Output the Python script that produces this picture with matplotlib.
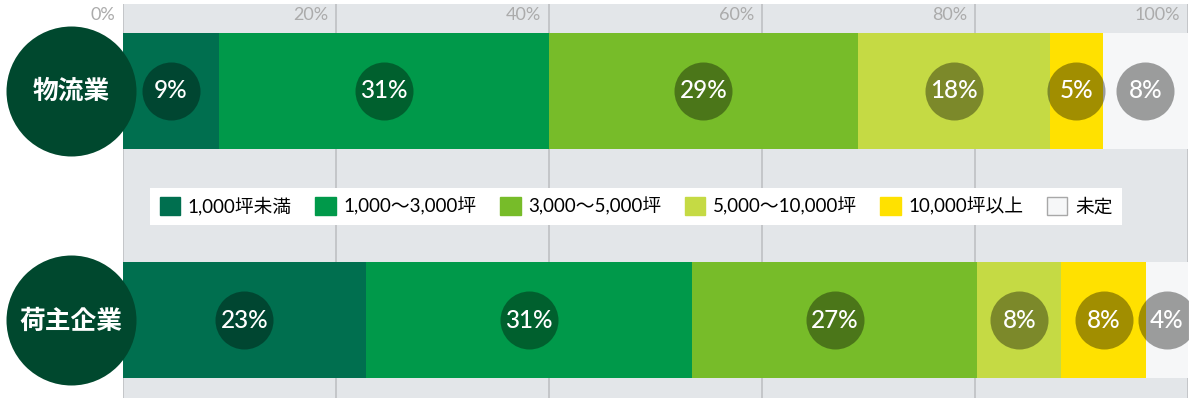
import numpy as np
import matplotlib.pyplot as plt
from matplotlib.patches import Patch

plt.rcParams['font.family'] = ['Lato', 'Noto Sans CJK JP', 'DejaVu Sans']

# data
industries = ['物流業', '荷主企業']
size_classes = ['1,000坪未満', '1,000～3,000坪', '3,000～5,000坪',
                '5,000～10,000坪', '10,000坪以上', '未定']
logistics_pct = [9, 31, 29, 18, 5, 8]
shipper_pct = [23, 31, 27, 8, 8, 4]
tick_values = [0, 20, 40, 60, 80, 100]

colors = ['#006f4f', '#00994a', '#77bc29', '#c5da44', '#ffe100', '#f6f7f8']
edge_colors = colors[:5] + ['#a8a8a8']
bg_gray = '#e3e6e9'
circle_green = '#00482e'

fig = plt.figure(figsize=(12, 4), dpi=100)
fig.patch.set_facecolor('white')
ax = fig.add_axes([123 / 1200, 2 / 400, 1065 / 1200, 394 / 400])
ax.set_facecolor(bg_gray)
ax.set_xlim(0, 100)
ax.set_ylim(1.338, -0.379)
for s in ax.spines.values():
    s.set_visible(False)
ax.set_xticks([])
ax.set_yticks([])

# grid lines + top tick labels
for t in tick_values:
    ax.axvline(t, color='#c4c6c9', lw=1.4, zorder=1)
    ax.annotate(f'{t}%', xy=(t, 0.972), xycoords=('data', 'axes fraction'),
                xytext=(-5.5, 0), textcoords='offset points',
                ha='right', va='center', fontsize=13, color='#ababab',
                annotation_clip=False)

bar_h = 0.505
for i, row in enumerate([logistics_pct, shipper_pct]):
    vals = np.array(row, dtype=float)
    widths = vals / vals.sum() * 100
    lefts = np.cumsum(widths) - widths
    ax.barh(i, widths, left=lefts, height=bar_h, color=colors, lw=0, zorder=2)
    centers = lefts + widths / 2
    ax.scatter(centers, [i] * len(centers), s=1745, c='black', alpha=0.37,
               lw=0, zorder=3)
    for cx, v in zip(centers, row):
        ax.text(cx, i, f'{v}%', ha='center', va='center', color='white',
                fontsize=17.5, fontweight='medium', zorder=4)

    # big label circle on the left
    ax.scatter([-4.88], [i], s=8760, c=circle_green, lw=0, zorder=5,
               clip_on=False)
    ax.text(-4.88, i, industries[i], ha='center', va='center', color='white',
            fontsize=18.5, fontweight='bold', zorder=6, clip_on=False)

handles = [Patch(facecolor=c, edgecolor=e, lw=1) for c, e in zip(colors, edge_colors)]
leg = fig.legend(handles, size_classes, loc='center',
                 bbox_to_anchor=(0.530, 0.484), ncol=6, fontsize=13.5,
                 handlelength=1.1, handleheight=1.1, handletextpad=0.4,
                 columnspacing=1.25, borderpad=0.5, fancybox=False,
                 frameon=True, framealpha=1)
leg.get_frame().set_facecolor('white')
leg.get_frame().set_edgecolor('none')

fig.savefig('out.png', dpi=100)
